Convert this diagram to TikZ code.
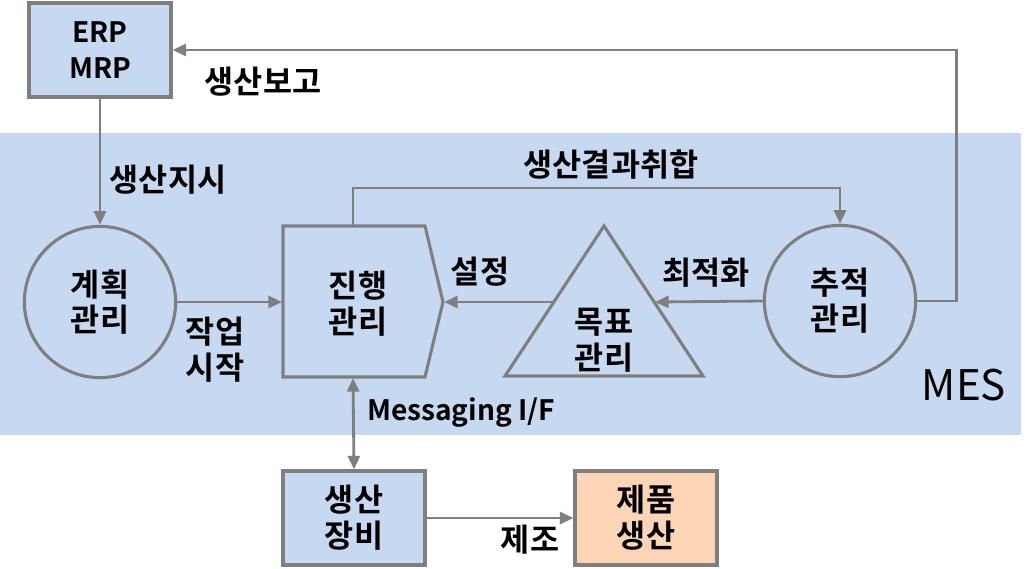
\documentclass[tikz,border=0pt]{standalone}
\usepackage{fontspec}
\setmainfont{Noto Sans CJK KR}[BoldFont={Noto Sans CJK KR Bold}]
\usetikzlibrary{arrows.meta}
\definecolor{mesblue}{HTML}{C6D9F0}
\definecolor{prodpeach}{HTML}{FBD5B5}
\definecolor{linegray}{HTML}{7F7F7F}

\begin{document}
\begin{tikzpicture}[x=0.025cm,y=0.025cm]
		\tikzstyle{every node}+=[inner sep=0pt, align=center, font=\fontsize{22.5}{25.5}\selectfont\bfseries]
		\tikzstyle{latin}=[font=\fontsize{20}{25.5}\selectfont\bfseries]
		\tikzstyle{box}=[draw=linegray, line width=2.2pt, fill=mesblue, minimum width=3.55cm, minimum height=2.35cm]
		\tikzstyle{proc}=[draw=linegray, line width=2.2pt, fill=mesblue, circle, minimum size=3.78cm]
		\tikzstyle{shp}=[draw=linegray, line width=2.2pt, fill=mesblue, line join=miter]
		\tikzstyle{arr}=[draw=linegray, line width=2pt, -{Triangle[length=0.34cm,width=0.3cm]}]
		\tikzstyle{dbl}=[draw=linegray, line width=2pt, {Triangle[length=0.34cm,width=0.3cm]}-{Triangle[length=0.34cm,width=0.3cm]}]
		\useasboundingbox (0,0) rectangle (1031,-568);
		% MES area
		\fill [mesblue] (0,-133) rectangle (1021,-435);
		\node [font=\fontsize{30}{36}\selectfont\mdseries] (meslbl) at (964,-385) {MES};
		% outside boxes
		\node [box, latin] (erp) at (100,-50) {ERP\\MRP};
		\node [box] (equip) at (354,-518) {생산\\장비};
		\node [box, fill=prodpeach] (prod) at (646,-518) {제품\\생산};
		% MES functions
		\node [proc] (plan) at (100,-302) {계획\\관리};
		\node [proc] (track) at (840,-301) {추적\\관리};
		\draw [shp] (283,-226) -- (425,-226) -- (443,-302) -- (425,-377) -- (283,-377) -- cycle;
		\node (prog) at (358,-304) {진행\\관리};
		\coordinate (progtip) at (444,-302);
		\coordinate (progleft) at (282,-302);
		\coordinate (progtop) at (353,-225);
		\coordinate (progbot) at (353,-378);
		\draw [shp] (604,-226) -- (703,-376) -- (505,-376) -- cycle;
		\node (goal) at (604,-340) {목표\\관리};
		\coordinate (goalleft) at (553,-302);
		\coordinate (goalright) at (655,-302);
		% connectors
		\draw [arr] (erp.south) -- (plan.north);
		\draw [arr] (track.east) -- ++(39,0) |- (erp.east);
		\draw [arr] (progtop) -- ++(0,37) -| (track.north);
		\draw [arr] (plan.east) -- (progleft);
		\draw [arr] (goalleft) -- (progtip);
		\draw [arr] (track.west) -- (goalright);
		\draw [dbl] (progbot) -- (equip.north);
		\draw [arr] (equip.east) -- (prod.west);
		% labels
		\node (lblreport) at (263,-82) {생산보고};
		\node (lblorder) at (168,-180) {생산지시};
		\node (lblresult) at (611,-165) {생산결과취합};
		\node (lblstart) at (215,-350) {작업\\시작};
		\node (lblset) at (480,-272) {설정};
		\node (lblopt) at (706,-273) {최적화};
		\node [latin] (lblmsg) at (461,-413) {Messaging I/F};
		\node (lblmake) at (530,-540) {제조};
	\end{tikzpicture}
\end{document}
